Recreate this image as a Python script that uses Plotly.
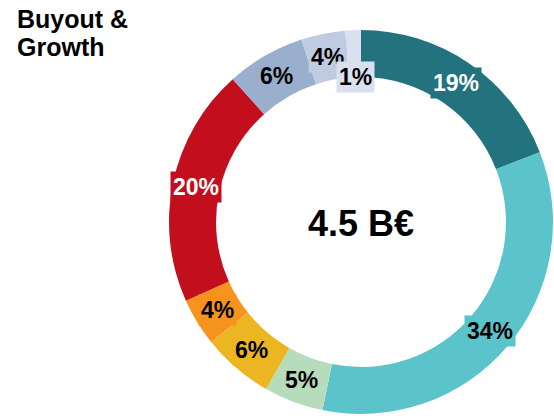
import math
import plotly.graph_objects as go

# ---- data ----
segments = ["S1", "S2", "S3", "S4", "S5", "S6", "S7", "S8", "S9"]
shares = [19, 34, 5, 6, 4, 20, 6.6, 3.7, 1.3]
share_labels = ["19%", "34%", "5%", "6%", "4%", "20%", "6%", "4%", "1%"]
colors = ["#22737D", "#5BC4CB", "#B6DCBC", "#EBB621", "#F5931E",
          "#C30F1D", "#9AAECE", "#BFCBE1", "#DAE1EE"]
text_colors = ["white", "black", "black", "black", "black",
               "white", "black", "black", "black"]
center_text = "4.5 B€"
title_lines = ["Buyout &", "Growth"]

# ---- layout geometry ----
W, H = 554, 416
cx, cy, R = 361, 222, 192          # pixel centre (from top) and outer radius
hole = 0.755
dom_x = [(cx - R) / W, (cx + R) / W]
dom_y = [1 - (cy + R) / H, 1 - (cy - R) / H]

fig = go.Figure(go.Pie(
    labels=segments, values=shares, sort=False, direction="clockwise",
    rotation=0, hole=hole, textinfo="none", hoverinfo="none",
    marker=dict(colors=colors, line=dict(width=0)),
    domain=dict(x=dom_x, y=dom_y), showlegend=False,
))

annotations = []
total = sum(shares)
cum = 0.0
r_mid = R * (1 + hole) / 2
for v, lab, col, tc in zip(shares, share_labels, colors, text_colors):
    mid = (cum + v / 2) / total * 2 * math.pi
    cum += v
    r = r_mid if v >= 2 else R * hole   # tiny slice label pushed inward
    px = cx + r * math.sin(mid)
    py = cy - r * math.cos(mid)
    annotations.append(dict(
        x=px / W, y=1 - py / H, xref="paper", yref="paper",
        text="<b>%s</b>" % lab, showarrow=False, bgcolor=col, borderpad=2,
        font=dict(family="Liberation Sans, Arial", size=23, color=tc),
        xanchor="center", yanchor="middle"))

annotations.append(dict(
    x=cx / W, y=1 - (cy + 1) / H, xref="paper", yref="paper",
    text="<b>%s</b>" % center_text, showarrow=False,
    font=dict(family="Liberation Sans, Arial", size=36, color="black"),
    xanchor="center", yanchor="middle"))

for i, line in enumerate(title_lines):
    annotations.append(dict(
        x=15 / W, y=1 - (19 + 28 * i) / H, xref="paper", yref="paper",
        text="<b>%s</b>" % line, showarrow=False,
        font=dict(family="Liberation Sans, Arial", size=25, color="black"),
        xanchor="left", yanchor="middle"))

fig.update_layout(
    width=W, height=H, margin=dict(l=0, r=0, t=0, b=0),
    paper_bgcolor="white", plot_bgcolor="white",
    annotations=annotations,
)

fig.write_html("out.html")
